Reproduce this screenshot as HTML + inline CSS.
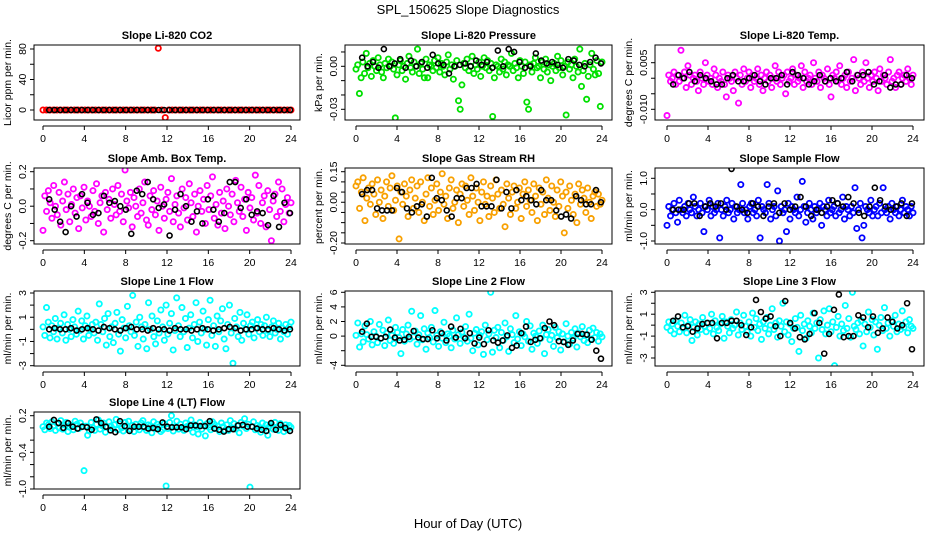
<!DOCTYPE html>
<html><head><meta charset="utf-8"><title>SPL_150625 Slope Diagnostics</title>
<style>html,body{margin:0;padding:0;background:#fff}svg{display:block;font-family:"Liberation Sans",Arial,sans-serif}</style>
</head><body>
<svg id="chart" width="936" height="540" viewBox="0 0 936 540">
<rect x="0" y="0" width="936" height="540" fill="#fff"/>
<text x="468" y="14" text-anchor="middle" font-size="13">SPL_150625  Slope Diagnostics</text>
<text x="468" y="528" text-anchor="middle" font-size="13">Hour of Day (UTC)</text>
</svg>
<script>
// ---- data (values in units of each panel's unit constant) ----
const p1Unit = 1;
const p1Color = [0,0,0,0,0,0,0,0,0,0,0,0,0,0,0,0,0,0,0,0,0,0,0,0,0,0,0,0,0,0,0,0,0,81,0,-10,0,0,0,0,0,0,0,0,0,0,0,0,0,0,0,0,0,0,0,0,0,0,0,0,0,0,0,0,0,0,0,0,0,0,0,0];
const p1Black = [0,0,0,0,0,0,0,0,0,0,0,0,0,0,0,0,0,0,0,0,0,0,0,0,0,0,0,0,0,0,0,0,0,0,0,0,0,0,0,0,0,0,0,0,0];
const p2Unit = 0.001;
const p2Color = [-2,1,-19,-8,3,-5,9,-1,2,-7,4,0,-3,6,1,-4,-8,2,-1,5,0,3,-2,-36,-6,1,4,-3,0,-9,2,7,-1,-4,3,0,12,-5,2,-2,-8,5,-8,1,0,-3,4,-1,6,-4,2,0,-6,3,8,-2,1,-9,0,4,-24,-30,-13,2,-1,5,-3,0,7,-5,1,-2,3,-7,0,6,-1,4,-3,2,-35,-8,1,0,-4,5,-2,3,-6,1,0,9,-3,2,-1,-8,4,0,-5,3,-25,-30,1,-4,2,6,-1,0,-8,3,-2,5,-4,1,-10,0,2,-3,7,-1,4,-6,0,-34,3,-2,1,-8,5,0,-4,12,-14,-3,2,-23,-7,1,9,-2,-6,4,-5,-28,3];
const p2Black = [6,0,3,-1,12,0,2,5,-1,4,0,3,-1,8,2,1,-5,0,1,2,0,4,1,3,-1,11,0,12,10,3,-1,0,9,4,2,3,1,-1,5,4,1,0,3,6,2];
const p3Unit = 0.001;
const p3Color = [-12,1,-1,0,2,-2,1,-1,9,0,2,-3,4,1,-2,0,1,-1,-4,2,0,-2,5,1,-1,0,-2,3,1,-3,0,-1,2,-2,-6,1,0,-1,-4,2,0,-8,1,-2,3,-1,0,2,-3,1,-1,0,3,-2,1,-4,0,2,-1,1,-3,0,4,-1,2,-2,0,1,-5,2,-1,0,3,-2,1,-1,0,4,-3,2,-1,0,1,-2,5,0,-1,2,-3,1,0,-1,3,-2,-6,1,0,2,-1,4,-2,0,1,-3,2,-1,0,6,-4,1,0,-2,2,-1,5,0,-3,1,-1,2,0,-4,3,-1,1,0,-2,2,6,-1,0,-3,1,2,-2,0,1,-1,3,0,-2,1];
const p3Black = [-2,1,0,2,-1,1,0,-1,-2,-2,0,1,-1,-1,0,1,-1,-2,0,0,1,-2,2,1,0,-2,-1,1,-1,0,-1,0,2,-1,1,1,2,-2,-1,1,-3,-2,-2,1,0];
const p4Unit = 0.01;
const p4Color = [-14,6,-3,9,2,-7,12,0,-5,8,-11,3,14,-2,7,-9,1,10,-4,5,-13,6,-1,11,-8,3,0,-6,9,-3,13,-10,2,6,-15,8,-2,4,-7,10,1,-5,12,-3,7,-9,21,3,-1,8,-12,5,0,-6,10,-4,2,14,-8,-11,6,-2,9,-5,3,-14,11,0,-7,4,8,-3,16,-9,1,6,-4,-12,10,-1,5,-8,13,2,-6,7,-15,0,9,-3,4,-10,12,-2,6,17,-7,1,-11,8,-4,3,-13,10,0,-5,7,-9,15,2,-3,11,-6,4,-14,8,-1,5,-8,18,-4,12,-10,2,6,-12,9,-2,-20,3,7,-6,14,-3,10,-9,1,5,-4,2];
const p4Black = [4,-2,-9,-15,0,-6,7,2,-5,-4,6,2,3,0,-2,-16,9,7,14,4,-1,1,-17,-2,7,0,-9,-3,-10,4,-2,-9,-4,14,14,-1,4,-5,-3,-4,-11,6,-12,2,-4];
const p5Unit = 0.01;
const p5Color = [8,10,-3,5,12,-9,2,7,-1,9,4,-6,11,0,6,-8,3,10,-2,7,13,-4,1,8,-18,5,-1,9,3,-7,6,11,-3,2,8,-5,10,0,-9,4,12,-2,7,-6,1,9,-4,5,14,-1,3,-8,7,11,-3,0,6,-10,4,9,-2,8,1,-6,12,3,-4,7,0,-9,5,10,-1,3,-7,8,2,-5,11,4,-3,6,-1,-12,9,2,-6,5,8,-3,0,7,-8,4,10,-2,6,1,-5,9,3,-9,7,-1,5,-6,11,2,-4,8,0,-7,6,-2,10,3,-15,5,-3,8,1,-6,4,-10,9,-1,6,2,-5,7,0,-8,3,5,-2,4,-1,1];
const p5Black = [4,6,6,-3,-4,-4,-4,7,5,-3,-5,-2,-1,-7,12,2,1,-4,-7,2,2,7,7,9,-2,-2,-2,11,-3,5,-3,6,1,3,1,-1,6,1,1,-4,-7,-6,-8,3,1,-1,-1,6,0];
const p6Unit = 0.1;
const p6Color = [-5,1,-2,0,2,-1,-4,3,0,-1,1,-2,2,0,-1,4,1,-2,0,2,-1,-7,1,0,3,-2,1,-1,0,2,-9,0,-2,1,3,-1,0,2,-3,1,-1,0,8,2,-1,0,-3,1,2,-1,0,-2,3,-9,1,0,-1,8,2,-3,0,1,-2,6,-10,1,-1,0,-7,2,-3,1,0,-1,4,-2,0,9,1,-4,-1,2,0,-3,1,-1,0,2,-5,1,0,-2,3,-1,0,1,-2,2,-1,0,4,-3,1,0,-2,1,-1,7,-6,0,2,-9,-5,1,0,-1,3,-2,0,1,-2,2,-1,7,0,-1,1,-3,2,0,-1,1,-2,0,3,-1,1,0,-2,1,-1];
const p6Black = [0,0,0,2,2,-2,1,2,1,2,0,13,1,0,-1,2,1,-2,1,2,-1,2,0,1,4,1,-2,0,-1,1,3,2,1,4,2,-1,-2,1,7,3,1,0,1,2,-2,2];
const p7Unit = 0.1;
const p7Color = [2,-5,18,6,-7,3,-2,9,-8,1,5,-3,12,-9,4,0,-6,8,2,-4,15,-1,7,-8,3,11,-5,0,4,-3,6,-9,21,4,-2,9,-13,13,-6,2,-11,5,14,-4,-18,8,1,-7,19,3,-2,28,-5,6,-14,10,2,-8,4,-16,22,0,11,-6,-12,7,-3,16,2,-9,20,-4,5,13,-17,-1,26,3,-6,18,-2,9,-15,1,12,-7,4,22,-10,6,-3,15,0,-13,8,24,-5,3,-14,11,-2,7,17,-8,-16,4,20,-3,-28,9,2,-6,14,-9,5,0,12,-4,3,6,-7,1,8,-2,4,-5,3,10,-1,-6,2,7,-3,0,5,-8,1,-2,4,-4,2,6];
const p7Black = [0,1,0,0,1,-1,0,1,0,-1,2,1,0,-1,1,2,0,0,-1,1,0,0,-1,1,0,0,-1,0,1,0,-1,0,1,2,1,-1,0,0,1,0,0,1,0,-1,0];
const p8Unit = 0.1;
const p8Color = [1,18,-15,3,-8,14,2,-4,20,-12,6,0,-9,16,-3,8,-13,4,22,-6,1,-10,12,5,-2,-24,9,-7,3,15,-4,34,-1,7,-11,2,28,-5,10,-18,4,-2,12,-8,35,1,-14,6,-3,19,-9,3,0,-16,8,-4,25,2,-10,5,-1,13,-7,30,-3,-20,4,9,-12,1,6,-25,15,-5,3,60,-22,8,-2,12,-16,5,-6,18,-1,-21,10,2,-9,28,-4,6,-13,3,-1,20,-7,14,-18,4,0,-10,7,-3,15,-24,2,9,-5,1,-14,12,-2,6,-19,3,-8,17,0,-11,5,-3,10,-15,4,-1,13,-6,2,-9,8,-4,11,-2,5,-7,3,-1];
const p8Black = [6,17,-1,-1,-3,-1,9,-2,-6,-5,-1,7,-2,-4,-4,8,-3,4,-6,13,-2,10,-3,4,-10,-2,-11,8,-6,-9,-6,1,-16,-13,4,13,-8,-5,-3,11,20,15,-7,-8,-12,-6,3,3,2,-5,-20,-31];
const p9Unit = 0.1;
const p9Color = [-2,3,-5,1,-8,4,-1,-6,2,-3,9,-7,0,5,-14,-2,3,-9,1,-4,7,-1,-6,2,-3,10,-8,4,-2,-5,1,8,-12,3,-1,-7,5,-3,0,12,-9,2,-4,9,-1,-6,3,-10,11,-2,6,-5,1,-13,3,-3,7,-8,0,15,-4,2,-11,4,-1,20,-6,3,-9,1,-15,-3,6,-2,-24,9,-5,1,-12,4,-1,-7,11,-3,2,-30,5,-4,13,-8,0,15,-6,3,-37,-2,8,-10,1,-5,18,-3,6,-11,30,-1,-4,2,-8,4,-19,1,-6,12,-2,5,-9,3,-22,0,7,-5,16,-3,2,-10,4,-1,9,-6,1,-4,13,-2,3,-7,5,-1,-3];
const p9Black = [4,8,-2,-1,-6,-3,1,2,2,-12,2,2,4,4,0,-9,-2,23,12,6,8,-1,-10,22,2,-3,-11,-13,-8,11,2,-26,-8,14,28,-11,-10,-10,9,7,-2,8,-7,-3,7,3,-3,0,20,-22];
const p10Unit = 0.01;
const p10Color = [2,-3,8,5,-1,10,3,-4,7,0,12,-2,5,9,-6,1,4,-3,11,6,-1,8,2,-70,3,-12,-5,9,0,-4,6,13,-2,4,8,-7,1,10,3,-1,5,14,-3,7,0,-5,9,2,11,-2,4,-6,6,1,-3,8,12,0,-4,5,3,-8,10,-1,6,2,-6,-3,7,-95,-1,9,20,-5,2,11,-2,6,0,-4,8,3,-1,13,-7,5,2,-10,9,-2,4,-13,7,1,-3,10,6,-1,3,-6,8,2,-4,5,-4,12,0,7,-2,4,-8,9,3,15,-1,6,-97,2,10,-3,4,1,-7,8,-1,5,-12,3,6,-2,9,0,-4,7,2,-6,5,-3,4,1];
const p10Black = [2,13,8,0,8,2,-1,2,1,-3,14,8,2,-4,-7,11,3,-5,2,2,2,-1,0,-2,9,2,1,1,1,-2,4,4,3,3,11,-1,-3,-6,-2,-2,4,5,2,2,-1,-3,-5,8,-3,5,0,-5];
const xTickHours = [0,4,8,12,16,20,24];
const p1Ticks=[0,20,40,60,80], p1Labels=["80","40","0"];
const p2Ticks=[0.01,0,-0.01,-0.02,-0.03], p2Labels=["0.00","-0.03"];
const p3Ticks=[0.005,0,-0.005,-0.010], p3Labels=["0.005","-0.010"];
const p4Ticks=[0.2,0.1,0,-0.1,-0.2], p4Labels=["0.2","0.0","-0.2"];
const p5Ticks=[0.15,0.1,0.05,0,-0.05,-0.1,-0.15,-0.2], p5Labels=["0.15","0.00","-0.20"];
const p6Ticks=[1,0.5,0,-0.5,-1], p6Labels=["1.0","0.0","-1.0"];
const p7Ticks=[3,2,1,0,-1,-2,-3], p7Labels=["3","1","-1","-3"];
const p8Ticks=[6,4,2,0,-2,-4], p8Labels=["6","4","2","0","-4"];
const p9Ticks=[3,2,1,0,-1,-2,-3], p9Labels=["3","1","-1","-3"];
const p10Ticks=[0.2,0,-0.2,-0.4,-0.6,-0.8,-1.0], p10Labels=["0.2","-0.4","-1.0"];

// ---- layout ----
const NS="http://www.w3.org/2000/svg";
const svg=document.getElementById('chart');
const cols=[{l:34,r:300,x0:43,x24:291},{l:345,r:612,x0:356,x24:602},{l:655,r:924,x0:667,x24:913}];
const rows=[{t:45,b:120},{t:168,b:244},{t:291,b:366},{t:412,b:489}];
function mk(tag,attrs,parent){const e=document.createElementNS(NS,tag);for(const k in attrs)e.setAttribute(k,attrs[k]);(parent||svg).appendChild(e);return e;}
function panel(key,title,ylab,color,c,r,cal,unit,cVals,bVals,ticks,labels){
  const C=cols[c],R=rows[r];
  const g=mk('g',{});
  
  
  const ys=v=>cal[1]+(v-cal[0])*(cal[3]-cal[1])/(cal[2]-cal[0]);
  const xs=h=>C.x0+h*(C.x24-C.x0)/24;
  const t=mk('text',{x:(C.l+C.r)/2,y:R.t-6,'text-anchor':'middle','font-size':11,'font-weight':'bold'},g);
  t.textContent=title;
  
  
  const yl=mk('text',{transform:`translate(${C.l-23},${(R.t+R.b)/2}) rotate(-90)`,'text-anchor':'middle','font-size':10.5},g);
  yl.textContent=ylab;
  
  
  const ya=mk('g',{},g);
  
  
  mk('line',{x1:C.l,x2:C.l,y1:ys(ticks[0]),y2:ys(ticks[ticks.length-1]),stroke:'#000'},ya);
  ticks.forEach(v=>{mk('line',{x1:C.l-4,x2:C.l,y1:ys(v),y2:ys(v),stroke:'#000'},ya);});
  labels.forEach(s=>{const v=parseFloat(s);const tl=mk('text',{transform:`translate(${C.l-8},${ys(v)}) rotate(-90)`,'text-anchor':'middle','font-size':10.5},ya);tl.textContent=s;
    
    });
  const xa=mk('g',{},g);
  
  
  const ay=R.b+6;
  mk('line',{x1:xs(0),x2:xs(24),y1:ay,y2:ay,stroke:'#000'},xa);
  xTickHours.forEach(h=>{mk('line',{x1:xs(h),x2:xs(h),y1:ay,y2:ay+4,stroke:'#000'},xa);
    const tl=mk('text',{x:xs(h),y:ay+16,'text-anchor':'middle','font-size':10.5},xa);tl.textContent=String(h);
    
    });
  const clip='clip-'+key;
  const cp=mk('clipPath',{id:clip},g);mk('rect',{x:C.l,y:R.t,width:C.r-C.l,height:R.b-R.t},cp);
  const pts=mk('g',{'clip-path':`url(#${clip})`},g);
  
  
  cVals.forEach((v,i)=>{const h=i*24/(cVals.length-1);
    const p=mk('circle',{cx:xs(h),cy:ys(v*unit),r:2.6,fill:'none',stroke:color,'stroke-width':1.8},pts);
    
    });
  bVals.forEach((v,i)=>{const h=0.6+i*23.3/(bVals.length-1);
    const p=mk('circle',{cx:xs(h),cy:ys(v*unit),r:2.5,fill:'none',stroke:'#000','stroke-width':1.6},pts);
    
    });
  const box=mk('rect',{x:C.l,y:R.t,width:C.r-C.l,height:R.b-R.t,fill:'none',stroke:'#000'},g);
  
  
}
panel('co2','Slope Li-820 CO2','Licor ppm per min.','#ff0000',0,0,[80,49,0,110],p1Unit,p1Color,p1Black,p1Ticks,p1Labels);
panel('pressure','Slope Li-820 Pressure','kPa per min.','#00e000',1,0,[0,66.3,-0.03,109.3],p2Unit,p2Color,p2Black,p2Ticks,p2Labels);
panel('li820-temp','Slope Li-820 Temp.','degrees C per min.','#ff00ff',2,0,[0.005,62.7,-0.010,109.3],p3Unit,p3Color,p3Black,p3Ticks,p3Labels);
panel('amb-box-temp','Slope Amb. Box Temp.','degrees C per min.','#ff00ff',0,1,[0.2,171.7,-0.2,240.7],p4Unit,p4Color,p4Black,p4Ticks,p4Labels);
panel('gas-stream-rh','Slope Gas Stream RH','percent per min.','#f8a000',1,1,[0.15,171.7,-0.20,243],p5Unit,p5Color,p5Black,p5Ticks,p5Labels);
panel('sample-flow','Slope Sample Flow','ml/min per min.','#0000ff',2,1,[1,178.3,-1,241],p6Unit,p6Color,p6Black,p6Ticks,p6Labels);
panel('line1-flow','Slope Line 1 Flow','ml/min per min.','#00ffff',0,2,[3,293,-3,365.7],p7Unit,p7Color,p7Black,p7Ticks,p7Labels);
panel('line2-flow','Slope Line 2 Flow','ml/min per min.','#00ffff',1,2,[6,292.3,-4,365.3],p8Unit,p8Color,p8Black,p8Ticks,p8Labels);
panel('line3-flow','Slope Line 3 Flow','ml/min per min.','#00ffff',2,2,[3,292.3,-3,358],p9Unit,p9Color,p9Black,p9Ticks,p9Labels);
panel('line4-flow','Slope Line 4 (LT) Flow','ml/min per min.','#00ffff',0,3,[0.2,415.7,-1.0,489],p10Unit,p10Color,p10Black,p10Ticks,p10Labels);
</script>
</body></html>
